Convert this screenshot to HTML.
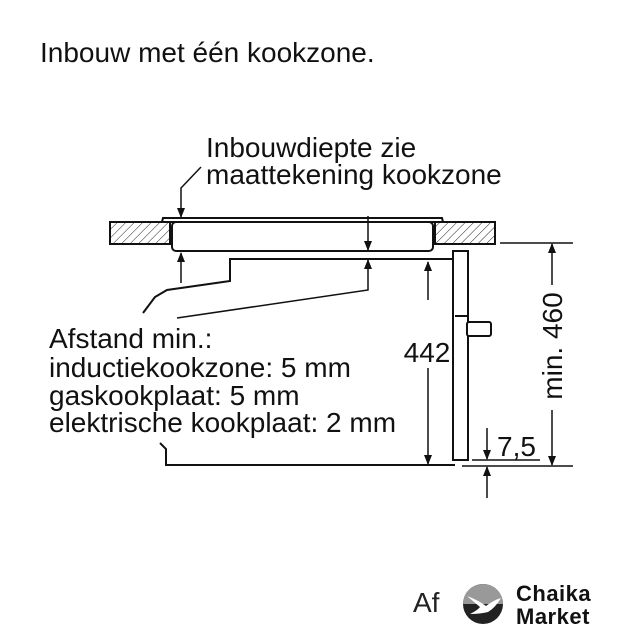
<!DOCTYPE html>
<html><head><style>
body{margin:0;background:#fff;}
svg{display:block;font-family:"Liberation Sans",sans-serif;}
</style></head><body>
<svg width="640" height="640" viewBox="0 0 640 640">
<defs>
<pattern id="h" width="6" height="6" patternUnits="userSpaceOnUse" patternTransform="rotate(45)">
<line x1="0" y1="0" x2="0" y2="6" stroke="#222" stroke-width="1"/>
</pattern>
<marker id="a" markerWidth="10" markerHeight="10" refX="9" refY="5" orient="auto" markerUnits="userSpaceOnUse">
<path d="M0,1 L10,5 L0,9 Z" fill="#111"/>
</marker>
</defs>
<rect width="640" height="640" fill="#fff"/>
<text x="40" y="62" font-size="28" fill="#111">Inbouw met één kookzone.</text>
<text x="206" y="157" font-size="28" fill="#111">Inbouwdiepte zie</text>
<text x="206" y="184" font-size="28" fill="#111">maattekening kookzone</text>
<g stroke="#111" fill="none" stroke-width="2">
<rect x="110" y="222" width="60" height="22" fill="url(#h)"/>
<rect x="435" y="222" width="60" height="22" fill="url(#h)"/>
<path d="M162,222 L163,218 L442,218 L443,222 Z" fill="#fff"/>
<rect x="172" y="222" width="261" height="29" rx="4" fill="#fff"/>
<polyline points="201,167 181,188 181,217" marker-end="url(#a)" stroke-width="1.5"/>
<line x1="181" y1="283" x2="181" y2="253" marker-end="url(#a)" stroke-width="1.5"/>
<line x1="368" y1="216" x2="368" y2="250" marker-end="url(#a)" stroke-width="1.5"/>
<polyline points="177,318 368,290 368,260" marker-end="url(#a)" stroke-width="1.5"/>
<polyline points="143,313 155,297 167,290 230,281 230,259 453,259"/>
<polyline points="160,443 166,449 166,465 455,465"/>
<rect x="453" y="251" width="15" height="209" fill="#fff"/>
<line x1="455" y1="316" x2="467" y2="316"/>
<rect x="467" y="322" width="24" height="14" rx="2" fill="#fff"/>
<line x1="428" y1="300" x2="428" y2="262" marker-end="url(#a)" stroke-width="1.5"/>
<line x1="428" y1="368" x2="428" y2="464" marker-end="url(#a)" stroke-width="1.5"/>
<line x1="500" y1="243" x2="573" y2="243" stroke-width="1.5"/>
<line x1="462" y1="466" x2="573" y2="466" stroke-width="1.5"/>
<line x1="552" y1="285" x2="552" y2="244" marker-end="url(#a)" stroke-width="1.5"/>
<line x1="552" y1="410" x2="552" y2="465" marker-end="url(#a)" stroke-width="1.5"/>
<line x1="472" y1="460" x2="540" y2="460" stroke-width="1.5"/>
<line x1="487" y1="428" x2="487" y2="459" marker-end="url(#a)" stroke-width="1.5"/>
<line x1="487" y1="498" x2="487" y2="467" marker-end="url(#a)" stroke-width="1.5"/>
</g>
<rect x="402" y="336" width="50" height="30" fill="#fff"/>
<text x="427" y="362" font-size="28" text-anchor="middle" fill="#111">442</text>
<text x="497" y="456" font-size="28" fill="#111">7,5</text>
<text transform="translate(562,346) rotate(-90)" font-size="28" text-anchor="middle" fill="#111">min. 460</text>
<g font-size="28" fill="#111">
<text x="49" y="348">Afstand min.:</text>
<text x="49" y="377">inductiekookzone: 5 mm</text>
<text x="49" y="405">gaskookplaat: 5 mm</text>
<text x="49" y="432">elektrische kookplaat: 2 mm</text>
</g>
<text x="413" y="612" font-size="28" fill="#222">Af</text>
<circle cx="483" cy="604" r="20" fill="#222"/>
<path d="M463,604 A20,20 0 0 1 503,604 Z" fill="#999"/>
<path d="M467,596 Q478,600 486,606 Q494,600 501,598 Q495,608 488,612 Q480,614 470,614 Q478,610 480,607 Q474,602 467,596 Z" fill="#fff"/>
<text x="516" y="601" font-size="22" font-weight="bold" fill="#111" letter-spacing="0.5">Chaika</text>
<text x="516" y="624" font-size="22" font-weight="bold" fill="#111" letter-spacing="0.5">Market</text>
</svg>
</body></html>
